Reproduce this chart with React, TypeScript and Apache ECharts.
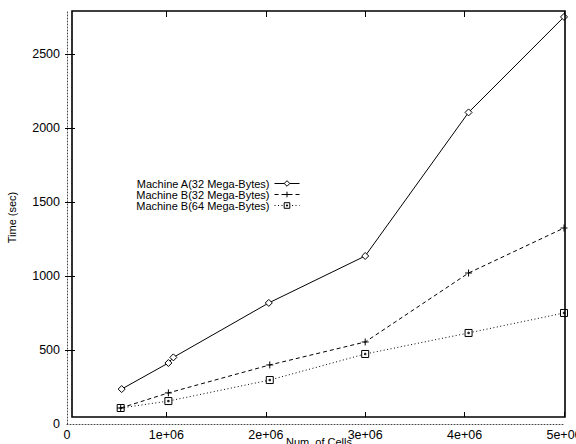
import React, { useEffect, useRef } from "react";
import * as echarts from "echarts";

const seriesNames = [
  "Machine A(32 Mega-Bytes)",
  "Machine B(32 Mega-Bytes)",
  "Machine B(64 Mega-Bytes)",
];
const cellsA = [550000, 1020000, 1070000, 2030000, 3000000, 4040000, 5000000];
const timeA = [236, 412, 450, 818, 1135, 2105, 2750];
const cellsB = [540000, 1020000, 2040000, 3000000, 4040000, 5000000];
const timeB32 = [108, 210, 399, 554, 1020, 1324];
const timeB64 = [108, 155, 297, 473, 615, 750];
const xTicks = [1000000, 2000000, 3000000, 4000000, 5000000];
const xLabels = [0, 1000000, 2000000, 3000000, 4000000, 5000000];
const yTicks = [500, 1000, 1500, 2000, 2500];
const yLabels = [0, 500, 1000, 1500, 2000, 2500];

const FONT = "'Liberation Sans', Arial, Helvetica, sans-serif";

const pairs = (xs: number[], ys: number[]) => xs.map((x, i) => [x, ys[i]]);

export default function App() {
  const ref = useRef<HTMLDivElement>(null);
  useEffect(() => {
    if (!ref.current) return;
    document.body.style.margin = "0";
    const chart = echarts.init(ref.current, null, { renderer: "svg" });
    const frameAxisCommon = {
      min: 0,
      axisLine: { show: false },
      axisLabel: { show: false },
      splitLine: { show: false },
    };
    chart.setOption({
      animation: false,
      backgroundColor: "#fff",
      grid: { left: 67, right: 12, top: 11, bottom: 20, containLabel: false, outerBoundsMode: "none" },
      xAxis: [
        {
          type: "value",
          min: 0,
          max: 5000000,
          interval: 1000000,
          position: "bottom",
          axisLine: { show: true, lineStyle: { color: "#444", width: 1, type: [1, 2] } },
          axisTick: { show: false },
          splitLine: { show: false },
          axisLabel: {
            customValues: xLabels,
            margin: 4,
            color: "#000",
            fontFamily: FONT,
            fontSize: 12.5,
            formatter: (v: number) => (v === 0 ? "0" : v / 1000000 + "e+06"),
          },
          name: "Num. of Cells",
          nameLocation: "middle",
          nameGap: 12,
          nameMoveOverlap: false,
          nameTextStyle: { color: "#000", fontFamily: FONT, fontSize: 11, padding: [0, 0, 0, 7] },
        },
        {
          ...frameAxisCommon,
          type: "value",
          max: 5000000,
          position: "bottom",
          offset: -7,
          axisTick: { show: true, inside: true, length: 5, customValues: xTicks, lineStyle: { color: "#000" } },
        },
        {
          ...frameAxisCommon,
          type: "value",
          max: 5000000,
          position: "top",
          axisTick: { show: true, inside: true, length: 6, customValues: xTicks, lineStyle: { color: "#000" } },
        },
      ],
      yAxis: [
        {
          type: "value",
          min: 0,
          max: 2790,
          position: "left",
          axisLine: { show: true, lineStyle: { color: "#444", width: 1, type: [1, 2] } },
          axisTick: { show: true, inside: true, length: 8, customValues: yTicks, lineStyle: { color: "#000" } },
          splitLine: { show: false },
          axisLabel: {
            customValues: yLabels,
            margin: 7,
            color: "#000",
            fontFamily: FONT,
            fontSize: 12.5,
            formatter: (v: number) => String(v),
          },
          name: "Time (sec)",
          nameLocation: "middle",
          nameGap: 50,
          nameRotate: 90,
          nameTextStyle: { color: "#000", fontFamily: FONT, fontSize: 11 },
        },
        {
          ...frameAxisCommon,
          type: "value",
          max: 2790,
          position: "right",
          offset: -3,
          axisTick: { show: true, inside: true, length: 5, customValues: yTicks, lineStyle: { color: "#000" } },
        },
      ],
      legend: {
        orient: "vertical",
        right: 271,
        top: 173,
        align: "right",
        itemWidth: 25,
        itemHeight: 7,
        itemGap: 0,
        selectedMode: false,
        data: seriesNames,
        textStyle: { color: "#000", fontFamily: FONT, fontSize: 11, lineHeight: 10.5 },
        lineStyle: { width: 1, color: "#000" },
        itemStyle: { color: "#fff", borderColor: "#000", borderWidth: 1 },
      },
      graphic: [
        {
          type: "rect",
          shape: { x: 72, y: 11, width: 493, height: 406 },
          style: { fill: "none", stroke: "#000", lineWidth: 1.6 },
          z: 10,
          silent: true,
        },
      ],
      series: [
        {
          name: seriesNames[0],
          type: "line",
          data: pairs(cellsA, timeA),
          symbol: "diamond",
          symbolSize: 7,
          clip: false,
          lineStyle: { color: "#000", width: 1, type: "solid" },
          itemStyle: { color: "#fff", borderColor: "#000", borderWidth: 1 },
          z: 5,
        },
        {
          name: seriesNames[1],
          type: "line",
          data: pairs(cellsB, timeB32),
          symbol: "path://M5,0V10M0,5H10",
          symbolSize: 7,
          clip: false,
          lineStyle: { color: "#000", width: 1, type: [4, 3] },
          itemStyle: { color: "#fff", borderColor: "#000", borderWidth: 1 },
          z: 4,
        },
        {
          name: seriesNames[2],
          type: "line",
          data: pairs(cellsB, timeB64),
          symbol: "path://M0,0H10V10H0ZM4,4H6V6H4Z",
          symbolSize: 7,
          clip: false,
          lineStyle: { color: "#000", width: 1, type: [1, 2.5] },
          itemStyle: { color: "#fff", borderColor: "#000", borderWidth: 1 },
          z: 3,
        },
      ],
    });
    return () => chart.dispose();
  }, []);
  return <div ref={ref} style={{ width: 576, height: 444 }} />;
}
